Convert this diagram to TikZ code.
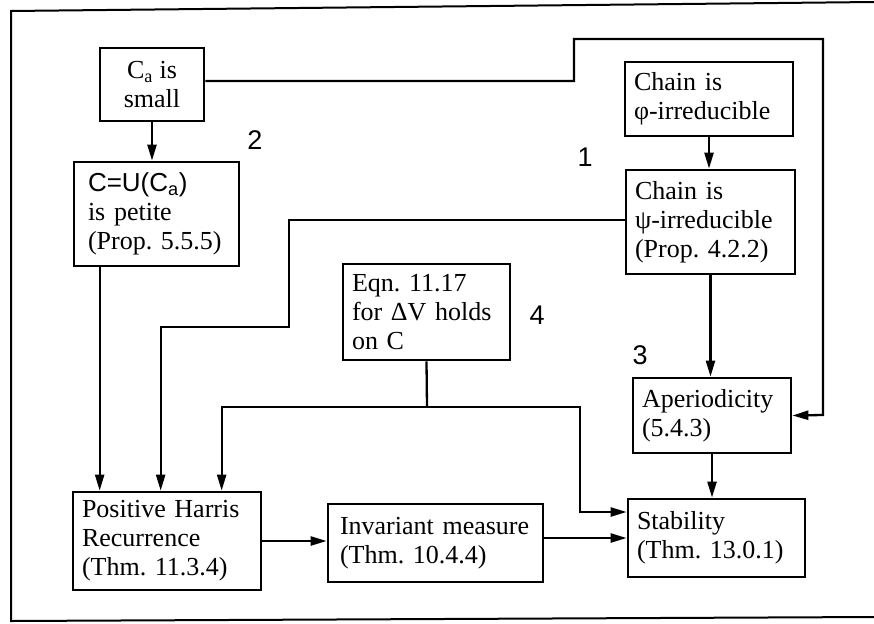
\documentclass[tikz,border=0pt]{standalone}
\usepackage{fontspec}
\setmainfont{Liberation Serif}
\newfontfamily\lsans{Liberation Sans}
\usetikzlibrary{arrows.meta}
\frenchspacing
\begin{document}
\begin{tikzpicture}[x=1pt,y=-1pt,
  box/.style={draw, line width=2.7pt, inner xsep=#1, inner ysep=0pt, align=left,
    font=\frenchspacing\fontsize{26}{29}\selectfont},
  box/.default=9pt,
  conn/.style={line width=2.3pt, -{Triangle[length=16pt,width=9pt]}},
  plain/.style={line width=2.3pt},
  num/.style={font=\lsans\fontsize{27}{30}\selectfont}]
\useasboundingbox (0,0) rectangle (874,623);
\draw[line width=2pt] (874,2) -- (11,11) -- (11,621) -- (874,617);

\node[box, align=center, minimum width=104pt, minimum height=73pt] (ca) at (152,84.5)
  {C\textsubscript{a} is\\small};
\node[box=14pt, text width=137pt, minimum height=104pt] (cu) at (156.5,214)
  {{\lsans C=U(C\textsubscript{a})}\\is petite\\(Prop. 5.5.5)};
\node[box, text width=150pt, minimum height=74pt] (chi1) at (709,99)
  {Chain is\\φ-irreducible};
\node[box, text width=151pt, minimum height=104pt] (chi2) at (710.5,222)
  {Chain is\\ψ-irreducible\\(Prop. 4.2.2)};
\node[box, text width=149pt, minimum height=96pt] (eqn) at (426.5,312)
  {Eqn. 11.17\\for ΔV holds\\on C};
\node[box, text width=140pt, minimum height=75pt] (aper) at (712,415.5)
  {Aperiodicity\\(5.4.3)};
\node[box, text width=170pt, minimum height=98pt] (phr) at (167,541)
  {Positive Harris\\Recurrence\\(Thm. 11.3.4)};
\node[box=12pt, text width=191pt, minimum height=78pt] (inv) at (435.5,543)
  {Invariant measure\\(Thm. 10.4.4)};
\node[box, text width=159pt, minimum height=78pt] (stab) at (716.5,538)
  {Stability\\(Thm. 13.0.1)};

\node[num] (l1) at (585,157) {1};
\node[num] (l2) at (255,140) {2};
\node[num] (l3) at (640,355) {3};
\node[num] (l4) at (537,315) {4};

\coordinate (r1) at (574,39);
\coordinate (r2) at (823,415);
\coordinate (k1) at (289,327);
\coordinate (j) at (427,407);
\coordinate (k2) at (580,512);

\draw[conn] (ca.south) -- (ca.south |- cu.north);
\draw[conn] (chi1.south) -- (chi1.south |- chi2.north);
\draw[conn, line join=miter] ([yshift=3.5pt]ca.east) -| (r1) -| (r2) -- (aper.east);
\draw[conn, line join=miter] ([yshift=2pt]chi2.west) -| (k1) -| ([xshift=89pt]phr.north west);
\draw[conn] ([xshift=27pt]cu.south west) -- ([xshift=28pt]phr.north west);
\draw[plain] (eqn.south) -- (j);
\draw[conn, line join=miter] (j) -| ([xshift=150pt]phr.north west);
\draw[conn, line join=miter] (j) -| (k2) -- (k2 -| stab.west);
\draw[conn] (chi2.south) -- (chi2.south |- aper.north);
\draw[conn] (aper.south) -- (aper.south |- stab.north);
\draw[conn] (phr.east) -- (phr.east -| inv.west);
\draw[conn] ([yshift=5pt]inv.east) -- ([yshift=5pt]inv.east -| stab.west);
\end{tikzpicture}
\end{document}
